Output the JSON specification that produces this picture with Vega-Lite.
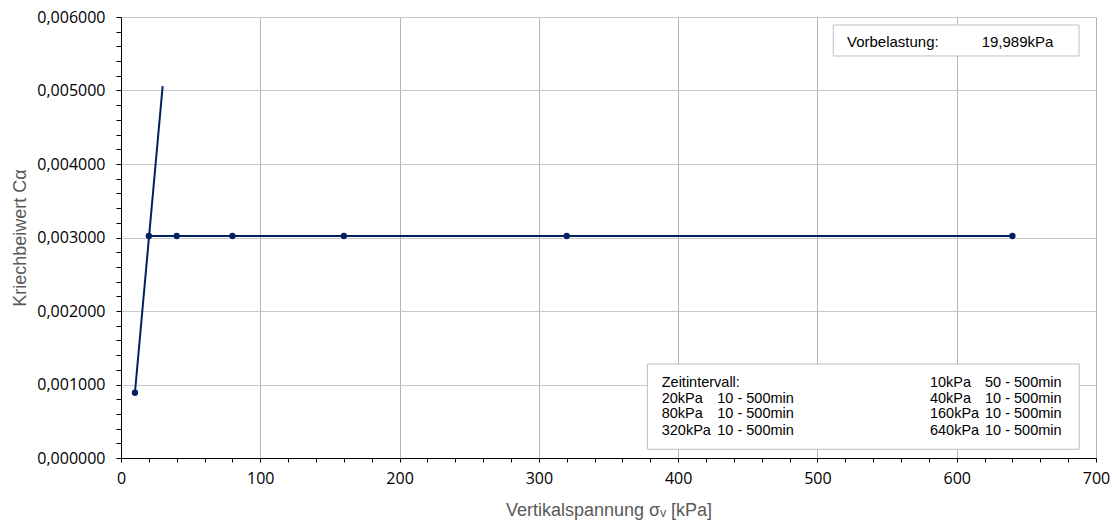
{
  "$schema": "https://vega.github.io/schema/vega-lite/v6.json",
  "width": 975,
  "height": 441,
  "autosize": {"type": "none"},
  "padding": {"left": 121, "top": 17, "right": 16, "bottom": 65},
  "background": "white",
  "config": {"view": {"stroke": null}},
  "datasets": {
    "messung": [
      {"sigma": 10, "ca": 0.000888},
      {"sigma": 20, "ca": 0.00302},
      {"sigma": 40, "ca": 0.00302},
      {"sigma": 80, "ca": 0.00302},
      {"sigma": 160, "ca": 0.00302},
      {"sigma": 320, "ca": 0.00302},
      {"sigma": 640, "ca": 0.00302}
    ],
    "vorbelastung": [
      {"sigma": 10, "ca": 0.000888},
      {"sigma": 29.9, "ca": 0.00506}
    ],
    "kaesten": [
      {"sigma": 511.4, "sigma2": 687.8, "ca": 0.0058912, "ca2": 0.0054694},
      {"sigma": 377.9, "sigma2": 688.0, "ca": 0.0012789, "ca2": 0.00011837}
    ],
    "texte_vb": [
      {"sigma": 521.2, "ca": 0.0056558, "text": "Vorbelastung:"},
      {"sigma": 617.9, "ca": 0.0056558, "text": "19,989kPa"}
    ],
    "texte_zi": [
      {"sigma": 388.2, "ca": 0.0010272, "text": "Zeitintervall:"},
      {"sigma": 388.2, "ca": 0.00080952, "text": "20kPa"},
      {"sigma": 428.1, "ca": 0.00080952, "text": "10 - 500min"},
      {"sigma": 388.2, "ca": 0.00059184, "text": "80kPa"},
      {"sigma": 428.1, "ca": 0.00059184, "text": "10 - 500min"},
      {"sigma": 388.2, "ca": 0.00036735, "text": "320kPa"},
      {"sigma": 428.1, "ca": 0.00036735, "text": "10 - 500min"},
      {"sigma": 580.8, "ca": 0.0010272, "text": "10kPa"},
      {"sigma": 620.3, "ca": 0.0010272, "text": "50 - 500min"},
      {"sigma": 580.8, "ca": 0.00080952, "text": "40kPa"},
      {"sigma": 620.3, "ca": 0.00080952, "text": "10 - 500min"},
      {"sigma": 580.8, "ca": 0.00059184, "text": "160kPa"},
      {"sigma": 620.3, "ca": 0.00059184, "text": "10 - 500min"},
      {"sigma": 580.8, "ca": 0.00036735, "text": "640kPa"},
      {"sigma": 620.3, "ca": 0.00036735, "text": "10 - 500min"}
    ]
  },
  "encoding": {
    "x": {
      "field": "sigma",
      "type": "quantitative",
      "scale": {"domain": [0, 700], "nice": false, "zero": false},
      "axis": {
        "title": "Vertikalspannung σᵥ [kPa]",
        "titleFont": "Liberation Sans",
        "titleFontSize": 18,
        "titleFontWeight": "normal",
        "titleColor": "#595959",
        "titleX": 487.5,
        "titleY": 57,
        "titleBaseline": "alphabetic",
        "titleAlign": "center",
        "values": [0,20,40,60,80,100,120,140,160,180,200,220,240,260,280,300,320,340,360,380,400,420,440,460,480,500,520,540,560,580,600,620,640,660,680,700],
        "labelExpr": "datum.value % 100 === 0 ? datum.value : ''",
        "labelFont": "Open Sans",
        "labelFontSize": 16,
        "labelColor": "#000000",
        "labelPadding": 8,
        "labelFlush": false,
        "labelOverlap": false,
        "tickSize": 4,
        "tickColor": "#000000",
        "tickWidth": 1,
        "domainColor": "#000000",
        "domainWidth": 1,
        "grid": true,
        "gridColor": "#b4b4b4",
        "gridWidth": 1,
        "gridOpacity": {"condition": {"test": "datum.value % 100 === 0", "value": 1}, "value": 0},
        "encode": {"ticks": {"update": {"y": {"value": -4}, "y2": {"value": 4}}}}
      }
    },
    "y": {
      "field": "ca",
      "type": "quantitative",
      "scale": {"domain": [0, 0.006], "nice": false, "zero": false},
      "axis": {
        "title": "Kriechbeiwert Cα",
        "titleFont": "Liberation Sans",
        "titleFontSize": 18,
        "titleFontWeight": "normal",
        "titleColor": "#595959",
        "titleAngle": -90,
        "titleX": -101,
        "titleY": 220.5,
        "titleAlign": "center",
        "titleBaseline": "middle",
        "values": [0,0.0002,0.0004,0.0006,0.0008,0.001,0.0012,0.0014,0.0016,0.0018,0.002,0.0022,0.0024,0.0026,0.0028,0.003,0.0032,0.0034,0.0036,0.0038,0.004,0.0042,0.0044,0.0046,0.0048,0.005,0.0052,0.0054,0.0056,0.0058,0.006],
        "labelExpr": "abs(datum.value*1000 - round(datum.value*1000)) < 1e-6 ? replace(format(datum.value, '.6f'), '.', ',') : ''",
        "labelFont": "Open Sans",
        "labelFontSize": 16,
        "labelColor": "#000000",
        "labelPadding": 11,
        "labelFlush": false,
        "labelOverlap": false,
        "tickSize": 5,
        "tickColor": "#000000",
        "tickWidth": 1,
        "domainColor": "#000000",
        "domainWidth": 1,
        "grid": true,
        "gridColor": "#c8c8c8",
        "gridWidth": 1,
        "gridOpacity": {"condition": {"test": "abs(datum.value*1000 - round(datum.value*1000)) < 1e-6", "value": 1}, "value": 0},
        "encode": {"ticks": {"update": {"x": {"value": -5}, "x2": {"value": 5}}}}
      }
    }
  },
  "layer": [
    {
      "data": {"name": "vorbelastung"},
      "mark": {"type": "line", "color": "#002060", "strokeWidth": 2}
    },
    {
      "data": {"name": "messung"},
      "transform": [{"filter": "datum.sigma >= 20"}],
      "mark": {"type": "line", "color": "#002060", "strokeWidth": 2}
    },
    {
      "data": {"name": "messung"},
      "mark": {"type": "point", "filled": true, "color": "#002060", "opacity": 1, "size": 40}
    },
    {
      "data": {"name": "kaesten"},
      "mark": {"type": "rect", "fill": "white", "stroke": "#bfbfbf", "strokeWidth": 1},
      "encoding": {
        "x2": {"field": "sigma2"},
        "y2": {"field": "ca2"}
      }
    },
    {
      "data": {"name": "texte_vb"},
      "mark": {"type": "text", "align": "left", "baseline": "middle", "font": "Liberation Sans", "fontSize": 15, "color": "#000000"},
      "encoding": {"text": {"field": "text"}}
    },
    {
      "data": {"name": "texte_zi"},
      "mark": {"type": "text", "align": "left", "baseline": "middle", "font": "Liberation Sans", "fontSize": 14.5, "color": "#000000"},
      "encoding": {"text": {"field": "text"}}
    }
  ]
}
